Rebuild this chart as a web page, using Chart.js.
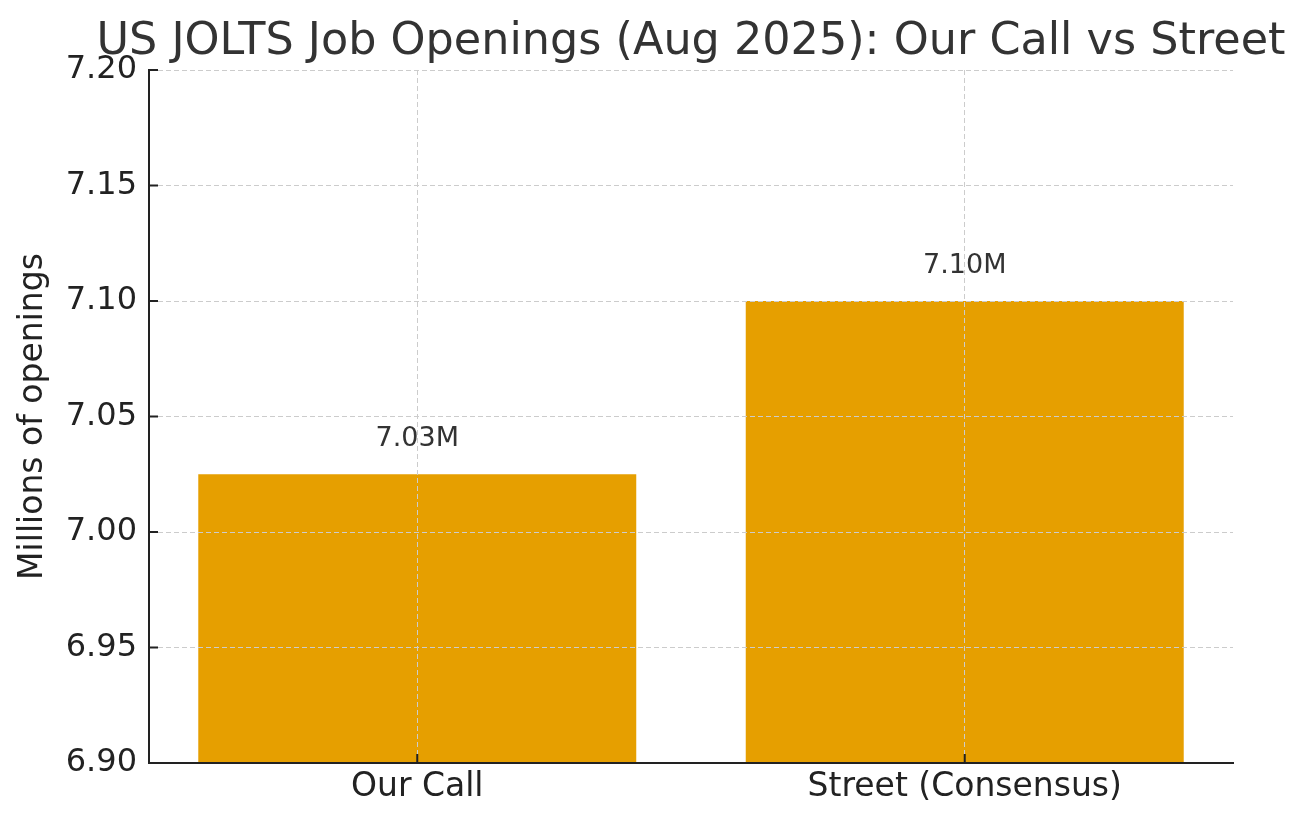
<!DOCTYPE html>
<html lang="en">
<head>
    <meta charset="UTF-8">
    <title>US JOLTS Job Openings</title>
    <style>
        html, body { margin: 0; padding: 0; background: #fff; }
        #wrap { width: 1305px; height: 826px; }
    </style>
    <script src="https://cdn.jsdelivr.net/npm/chart.js"></script>
</head>
<body>
<div id="wrap"><canvas id="grafico"></canvas></div>

<script>
    const categorias = ['Our Call', 'Street (Consensus)'];
    const valores = [7.025, 7.10];
    const rotulosValor = ['7.03M', '7.10M'];
    const tituloGrafico = 'US JOLTS Job Openings (Aug 2025): Our Call vs Street';
    const tituloEixoY = 'Millions of openings';

    const fonte = '"DejaVu Sans", sans-serif';

    // titulo centrado na area do grafico, rotulos das barras e tracinhos internos
    const extras = {
        id: 'extras',
        afterDatasetsDraw(chart) {
            const ctx = chart.ctx;
            const meta = chart.getDatasetMeta(0);
            ctx.save();
            ctx.font = '27px ' + fonte;
            ctx.fillStyle = '#333';
            ctx.textAlign = 'center';
            ctx.textBaseline = 'alphabetic';
            meta.data.forEach((bar, i) => {
                ctx.fillText(rotulosValor[i], bar.x, bar.y - 28);
            });
            ctx.restore();
        },
        afterDraw(chart) {
            const ctx = chart.ctx;
            const { x, y } = chart.scales;
            const area = chart.chartArea;
            ctx.save();
            ctx.font = '44.5px ' + fonte;
            ctx.fillStyle = '#333';
            ctx.textAlign = 'center';
            ctx.textBaseline = 'alphabetic';
            ctx.fillText(tituloGrafico, (area.left + area.right) / 2, 54);

            ctx.strokeStyle = '#222';
            ctx.lineWidth = 2;
            ctx.beginPath();
            y.ticks.forEach(t => {
                const py = y.getPixelForValue(t.value);
                ctx.moveTo(area.left, py);
                ctx.lineTo(area.left + 9, py);
            });
            x.ticks.forEach(t => {
                const px = x.getPixelForValue(t.value);
                ctx.moveTo(px, area.bottom);
                ctx.lineTo(px, area.bottom - 9);
            });
            ctx.stroke();
            ctx.restore();
        }
    };

    new Chart(document.getElementById('grafico'), {
        type: 'bar',
        data: {
            datasets: [{
                data: valores.map((v, i) => ({ x: i, y: v })),
                backgroundColor: '#E69F00',
                borderWidth: 0,
                barPercentage: 0.8,
                categoryPercentage: 1.0
            }]
        },
        options: {
            responsive: true,
            maintainAspectRatio: false,
            animation: false,
            layout: { padding: { top: 70, right: 72, bottom: 0, left: 0 } },
            plugins: {
                legend: { display: false },
                tooltip: { enabled: false },
                title: { display: false }
            },
            scales: {
                x: {
                    type: 'linear',
                    min: -0.49,
                    max: 1.49,
                    offset: false,
                    grid: { display: true, offset: false, drawTicks: false, color: '#cccccc', lineWidth: 1, z: 1 },
                    border: { display: true, color: '#222', width: 2, dash: [5, 3], z: 2 },
                    afterBuildTicks(scale) {
                        scale.ticks = categorias.map((c, i) => ({ value: i }));
                    },
                    ticks: {
                        color: '#222',
                        font: { family: fonte, size: 33 },
                        padding: 5,
                        maxRotation: 0,
                        autoSkip: false,
                        callback: v => categorias[v]
                    },
                    afterFit(scale) { scale.height = 63; }
                },
                y: {
                    min: 6.9,
                    max: 7.2,
                    grid: { drawTicks: false, color: '#cccccc', lineWidth: 1, z: 1 },
                    border: { display: true, color: '#222', width: 2, dash: [5, 3], z: 2 },
                    ticks: {
                        stepSize: 0.05,
                        color: '#222',
                        font: { family: fonte, size: 32 },
                        padding: 12,
                        callback: v => v.toFixed(2)
                    },
                    title: {
                        display: true,
                        text: tituloEixoY,
                        color: '#222',
                        font: { family: fonte, size: 33 },
                        padding: { top: 14, bottom: 0 }
                    },
                    afterFit(scale) { scale.width = 149; }
                }
            }
        },
        plugins: [extras]
    });
</script>
</body>
</html>
